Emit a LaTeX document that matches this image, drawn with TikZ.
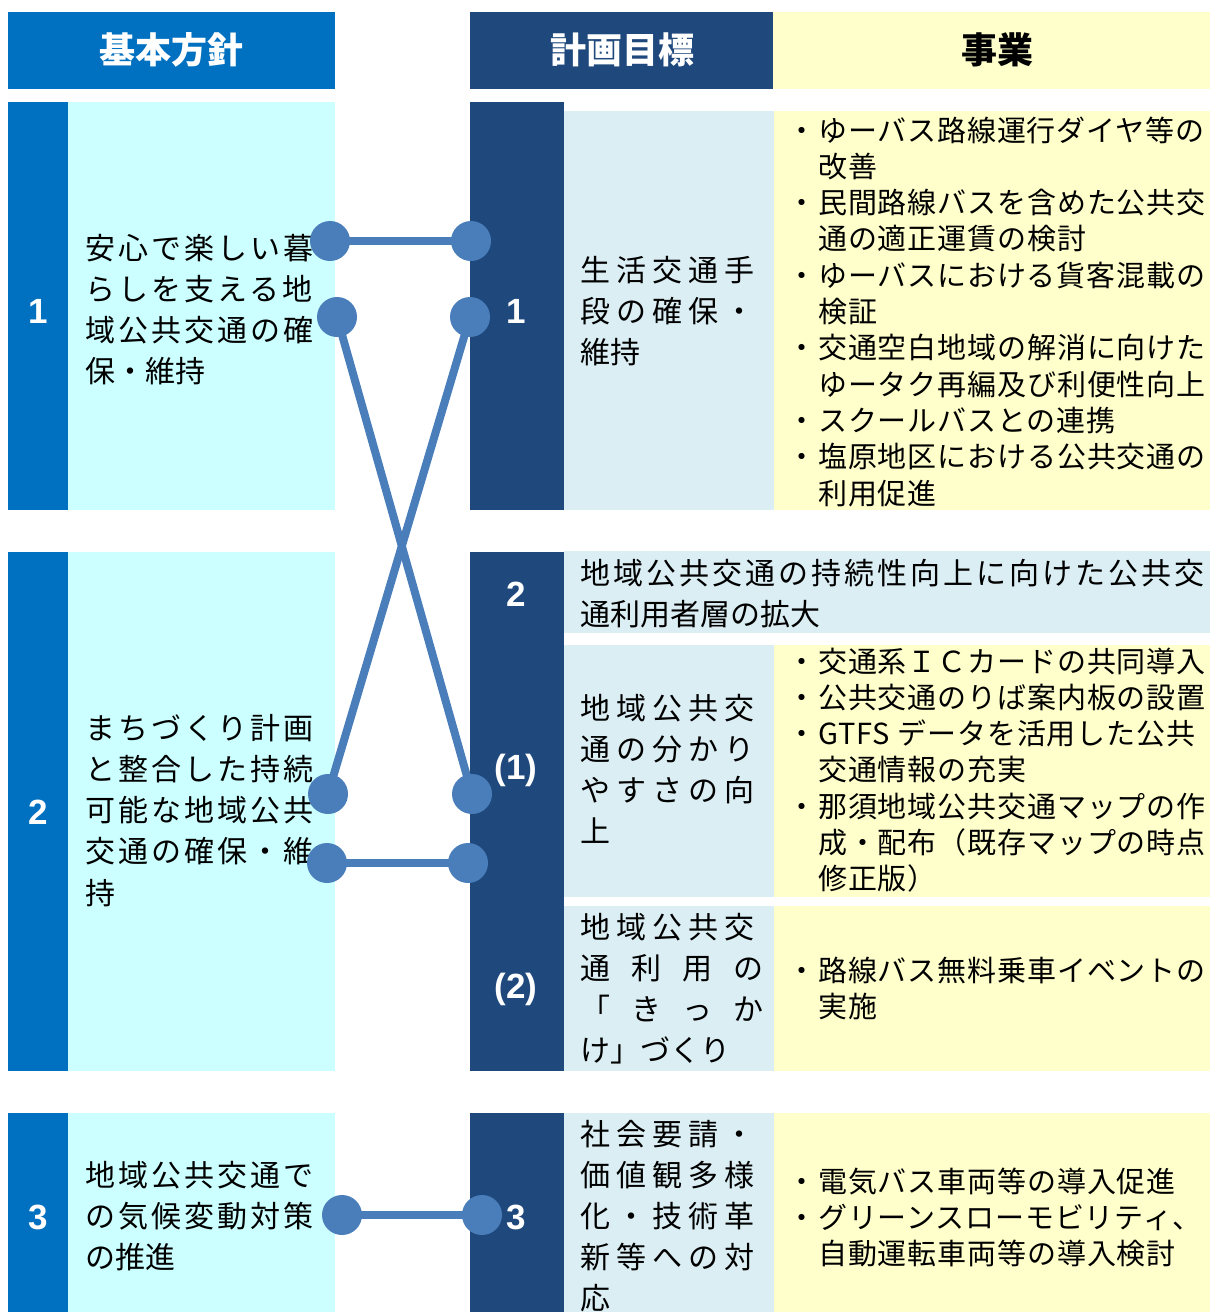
\documentclass[tikz,border=0pt]{standalone}
\usepackage{fontspec}
\newfontfamily\jp{Noto Sans CJK JP}
\newfontfamily\jpl[LetterSpace=10]{Noto Sans CJK JP}
\newfontfamily\jpm[LetterSpace=20]{Noto Sans CJK JP}
\newfontfamily\jpy[LetterSpace=3]{Noto Sans CJK JP}
\newfontfamily\numf{Liberation Sans}
\definecolor{hblue}{RGB}{0,112,192}
\definecolor{navy}{RGB}{31,73,125}
\definecolor{cyanl}{RGB}{204,255,255}
\definecolor{lblue}{RGB}{218,238,243}
\definecolor{yel}{RGB}{255,255,204}
\definecolor{linkc}{RGB}{74,126,187}
\newcommand\bul{\makebox[32pt][c]{・}}
\newcommand\ind{\hspace*{32pt}}
\newcommand\nat[1]{{\jp #1}}
\makeatletter
\newcommand\spreadline[2]{\makebox[#1][s]{\sprd@first#2\relax}}
\def\sprd@first#1{#1\sprd@rest}
\def\sprd@rest#1{\ifx\relax#1\else\hfil#1\expandafter\sprd@rest\fi}
\makeatother
\tikzset{
  hdr/.style={font=\jp\bfseries\fontsize{36}{40}\selectfont, inner sep=0pt},
  lefttxt/.style={anchor=base west, align=left, inner sep=0pt, font=\jpl\fontsize{30}{41.3}\selectfont},
  midtxt/.style={anchor=base west, align=left, inner sep=0pt, font=\jpm\fontsize{30}{41}\selectfont},
  titletxt/.style={anchor=base west, align=left, inner sep=0pt, font=\jpl\fontsize{30}{41}\selectfont},
  bultxt/.style={anchor=base west, align=left, inner sep=0pt, font=\jpy\fontsize{29}{36.3}\selectfont},
  numtxt/.style={font=\numf\bfseries\fontsize{35}{40}\selectfont, text=white, inner sep=0pt},
  dot/.style={circle, fill=linkc, minimum size=40pt, inner sep=0pt},
  link/.style={draw=linkc, line width=8pt}
}
\begin{document}
\begin{tikzpicture}[x=1pt,y=-1pt]
\fill[white] (0,0) rectangle (1210,1312);
\useasboundingbox (0,0) rectangle (1210,1312);
% headers
\fill[hblue] (8,12) rectangle (335,89);
\fill[navy] (470,12) rectangle (773,89);
\fill[yel] (773,12) rectangle (1210,89);
\node[hdr, text=white] (h1) at (171,50) {基本方針};
\node[hdr, text=white] (h2) at (622,50) {計画目標};
\node[hdr, text=black] (h3) at (997,50) {事業};
% left blocks
\fill[hblue] (8,102) rectangle (68,510);
\fill[cyanl] (68,102) rectangle (335,510);
\fill[hblue] (8,552) rectangle (68,1071);
\fill[cyanl] (68,552) rectangle (335,1071);
\fill[hblue] (8,1113) rectangle (68,1312);
\fill[cyanl] (68,1113) rectangle (335,1312);
% right block 1
\fill[navy] (470,102) rectangle (564,510);
\fill[lblue] (564,111) rectangle (774,510);
\fill[yel] (774,111) rectangle (1210,510);
% right block 2
\fill[navy] (470,552) rectangle (564,1071);
\fill[lblue] (564,551) rectangle (1210,633);
\fill[lblue] (564,645) rectangle (774,897);
\fill[yel] (774,645) rectangle (1210,897);
\fill[lblue] (564,906) rectangle (774,1071);
\fill[yel] (774,906) rectangle (1210,1071);
% right block 3
\fill[navy] (470,1113) rectangle (564,1312);
\fill[lblue] (564,1113) rectangle (774,1312);
\fill[yel] (774,1113) rectangle (1210,1312);
% numbers
\node[numtxt] (n1) at (38,311) {1};
\node[numtxt] (n2) at (38,812) {2};
\node[numtxt] (n3) at (38,1217) {3};
\node[numtxt] (m1) at (516,311) {1};
\node[numtxt] (m2) at (516,594) {2};
\node[numtxt] (m21) at (516,770) {(1)};
\node[numtxt] (m22) at (516,989) {(2)};
\node[numtxt] (m3) at (516,1217) {3};
% left texts (anchor = baseline of last line)
\node[lefttxt] (t1) at (85,382.9) {安心で楽しい暮\\らしを支える地\\域公共交通の確\\\nat{保・維持}};
\node[lefttxt] (t2) at (85,904.2) {まちづくり計画\\と整合した持続\\可能な地域公共\\交通の確保・維\\\nat{持}};
\node[lefttxt] (t3) at (85,1268.6) {地域公共交通で\\の気候変動対策\\\nat{の推進}};
% middle texts
\node[midtxt] (g1) at (580,363) {生活交通手\\段の確保・\\\nat{維持}};
\node[titletxt] (g2) at (580,625) {地域公共交通の持続性向上に向けた公共交\\\nat{通利用者層の拡大}};
\node[midtxt] (g21) at (580,842) {地域公共交\\通の分かり\\やすさの向\\\nat{上}};
\node[midtxt] (g22) at (580,1061) {地域公共交\\\spreadline{183pt}{通利用の}\\\spreadline{183pt}{「きっか}\\\nat{け」づくり}};
\node[midtxt] (g3) at (580,1309) {社会要請・\\価値観多様\\化・技術革\\新等への対\\\nat{応}};
% project texts
\node[bultxt] (p1) at (786,504) {\bul ゆーバス路線運行ダイヤ等の\\\ind 改善\\\bul 民間路線バスを含めた公共交\\\ind 通の適正運賃の検討\\\bul ゆーバスにおける貨客混載の\\\ind 検証\\\bul 交通空白地域の解消に向けた\\\ind ゆータク再編及び利便性向上\\\bul スクールバスとの連携\\\bul 塩原地区における公共交通の\\\ind 利用促進};
\node[bultxt] (p21) at (786,889.8) {\bul 交通系ＩＣカードの共同導入\\\bul 公共交通のりば案内板の設置\\\bul GTFS データを活用した公共\\\ind 交通情報の充実\\\bul 那須地域公共交通マップの作\\\ind 成・配布（既存マップの時点\\\ind 修正版）};
\node[bultxt] (p22) at (786,1017.3) {\bul 路線バス無料乗車イベントの\\\ind 実施};
\node[bultxt] (p3) at (786,1264.6) {\bul 電気バス車両等の導入促進\\\bul グリーンスローモビリティ、\\\ind 自動運転車両等の導入検討};
% connector dots
\node[dot] (la) at (330,241) {};
\node[dot] (ra) at (471,241) {};
\node[dot] (lb) at (337,317) {};
\node[dot] (rb) at (470,317) {};
\node[dot] (lc) at (328,794) {};
\node[dot] (rc) at (472,794) {};
\node[dot] (ld) at (327,863) {};
\node[dot] (rd) at (468,863) {};
\node[dot] (le) at (342,1215) {};
\node[dot] (re) at (482,1215) {};
% connectors
\draw[link] (la.center) -- (ra.center);
\draw[link] (lb.center) -- (rc.center);
\draw[link] (rb.center) -- (lc.center);
\draw[link] (ld.center) -- (rd.center);
\draw[link] (le.center) -- (re.center);
\end{tikzpicture}
\end{document}
